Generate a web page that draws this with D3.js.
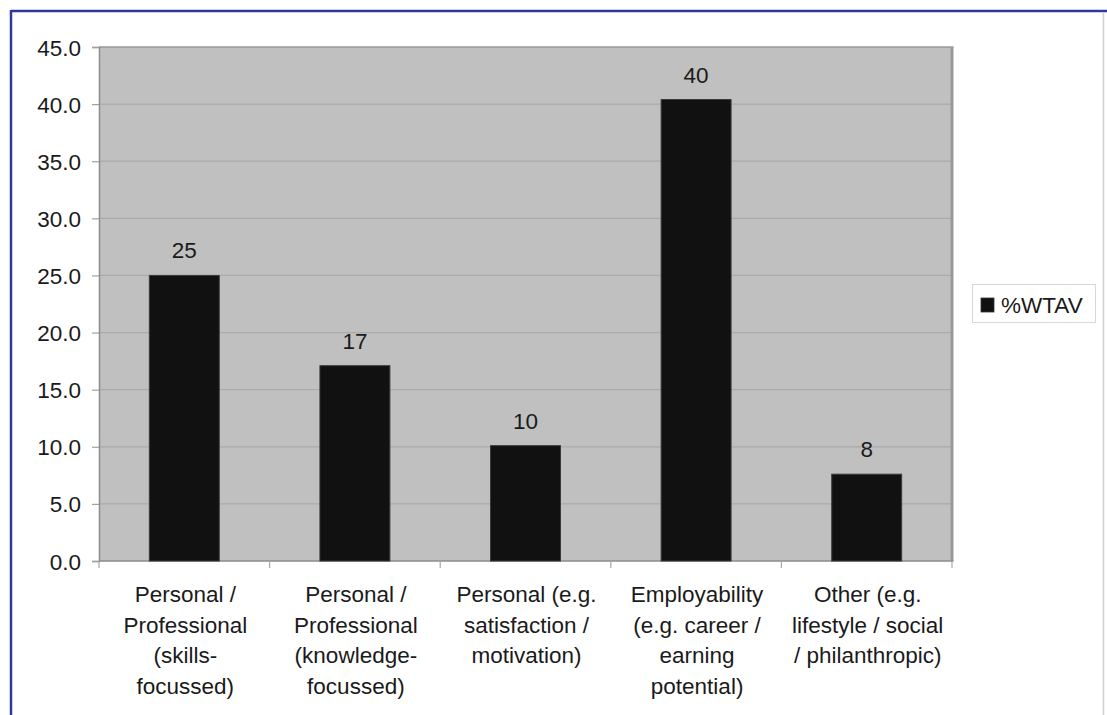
<!DOCTYPE html>
<html>
<head>
<meta charset="utf-8">
<script src="https://cdn.jsdelivr.net/npm/d3@7"></script>
<style>
  html, body { margin: 0; padding: 0; background: #fff; }
  svg { display: block; }
  text { font-family: "Liberation Sans", Arial, sans-serif; fill: #1a1a1a; }
</style>
</head>
<body>
<svg id="chart" width="1107" height="715"></svg>
<script>
// Reasons for study, share of responses (%WTAV)
const categories = [
  "Personal / Professional (skills-focussed)",
  "Personal / Professional (knowledge-focussed)",
  "Personal (e.g. satisfaction / motivation)",
  "Employability (e.g. career / earning potential)",
  "Other (e.g. lifestyle / social / philanthropic)"
];
const categoryLines = [
  ["Personal /", "Professional", "(skills-", "focussed)"],
  ["Personal /", "Professional", "(knowledge-", "focussed)"],
  ["Personal (e.g.", "satisfaction /", "motivation)"],
  ["Employability", "(e.g. career /", "earning", "potential)"],
  ["Other (e.g.", "lifestyle / social", "/ philanthropic)"]
];
const values = [25.0, 17.1, 10.1, 40.4, 7.6];
const seriesName = "%WTAV";
const yTicks = [0, 5, 10, 15, 20, 25, 30, 35, 40, 45];

const svg = d3.select("#chart");
const plot = { left: 99, right: 952, top: 47, bottom: 561 };
const fontSize = 22.5;

// outer frame
svg.append("line").attr("x1", 11).attr("x2", 1107).attr("y1", 11).attr("y2", 11)
  .attr("stroke", "#3535a0").attr("stroke-width", 2.5);
svg.append("line").attr("x1", 11).attr("x2", 11).attr("y1", 10).attr("y2", 715)
  .attr("stroke", "#3535a0").attr("stroke-width", 2.5);
svg.append("line").attr("x1", 1103.5).attr("x2", 1103.5).attr("y1", 12).attr("y2", 715)
  .attr("stroke", "#d0d0d0").attr("stroke-width", 1.5);

const x = d3.scaleBand().domain(categories)
  .range([plot.left, plot.right]).paddingInner(0.59).paddingOuter(0.295);
const xCat = d3.scaleBand().domain(categories).range([plot.left, plot.right]).padding(0);
const y = d3.scaleLinear().domain([0, 45]).range([plot.bottom, plot.top]);

// plot background
svg.append("rect")
  .attr("x", plot.left).attr("y", plot.top)
  .attr("width", plot.right - plot.left).attr("height", plot.bottom - plot.top)
  .attr("fill", "#c0c0c0");

// gridlines
svg.append("g").selectAll("line").data(yTicks.filter(d => d > 0 && d < 45)).join("line")
  .attr("x1", plot.left).attr("x2", plot.right)
  .attr("y1", d => y(d)).attr("y2", d => y(d))
  .attr("stroke", "#aaaaaa").attr("stroke-width", 1.2);

// plot border (top and right)
svg.append("line").attr("x1", plot.left).attr("x2", plot.right + 1.5)
  .attr("y1", plot.top).attr("y2", plot.top)
  .attr("stroke", "#999").attr("stroke-width", 1.5);
svg.append("line").attr("x1", plot.right).attr("x2", plot.right)
  .attr("y1", plot.top).attr("y2", plot.bottom)
  .attr("stroke", "#999").attr("stroke-width", 3);

// y axis
const yAxis = svg.append("g").attr("transform", `translate(${plot.left},0)`)
  .call(d3.axisLeft(y).tickValues(yTicks).tickFormat(d3.format(".1f")).tickSize(7).tickPadding(11));
yAxis.select(".domain").attr("stroke", "#8c8c8c").attr("stroke-width", 1.5);
yAxis.selectAll(".tick line").attr("stroke", "#a0a0a0").attr("stroke-width", 1.2);
yAxis.selectAll(".tick text")
  .style("font-family", "'Liberation Sans', Arial, sans-serif")
  .style("font-size", fontSize + "px").attr("fill", "#1a1a1a").attr("dy", "0.36em");

// x axis with boundary ticks
const xAxisG = svg.append("g");
xAxisG.append("line").attr("x1", plot.left).attr("x2", plot.right + 1.5)
  .attr("y1", plot.bottom).attr("y2", plot.bottom)
  .attr("stroke", "#8c8c8c").attr("stroke-width", 1.5);
const bounds = categories.map(c => xCat(c)).concat([plot.right]);
xAxisG.selectAll("line.tick").data(bounds).join("line").attr("class", "tick")
  .attr("x1", d => d).attr("x2", d => d)
  .attr("y1", plot.bottom).attr("y2", plot.bottom + 7)
  .attr("stroke", "#a8a8a8").attr("stroke-width", 1.2);

// category labels
const lineGap = 30.5;
const labelG = svg.append("g");
categories.forEach((c, i) => {
  const t = labelG.append("text")
    .attr("x", xCat(c) + xCat.bandwidth() / 2 + 1)
    .attr("y", 602)
    .attr("text-anchor", "middle")
    .style("font-size", fontSize + "px");
  categoryLines[i].forEach((ln, j) => {
    t.append("tspan").attr("x", xCat(c) + xCat.bandwidth() / 2 + 1)
      .attr("y", 602 + j * lineGap).text(ln);
  });
});

// bars
svg.append("g").selectAll("rect").data(values).join("rect")
  .attr("x", (d, i) => x(categories[i]))
  .attr("y", d => y(d))
  .attr("width", x.bandwidth())
  .attr("height", d => y(0) - y(d))
  .attr("fill", "#111111")
  .attr("stroke", "#3a3a3a").attr("stroke-width", 1);

// value labels
svg.append("g").selectAll("text").data(values).join("text")
  .attr("x", (d, i) => x(categories[i]) + x.bandwidth() / 2)
  .attr("y", d => y(d) - 17)
  .attr("text-anchor", "middle")
  .style("font-size", fontSize + "px")
  .text(d => d3.format(".0f")(d));

// legend
const lg = svg.append("g");
lg.append("rect").attr("x", 972.5).attr("y", 284.5).attr("width", 123).attr("height", 38)
  .attr("fill", "#fff").attr("stroke", "#d8d8d8").attr("stroke-width", 1);
lg.append("rect").attr("x", 981).attr("y", 298).attr("width", 13).attr("height", 14)
  .attr("fill", "#111").attr("stroke", "#333").attr("stroke-width", 0.8);
lg.append("text").attr("x", 1001).attr("y", 313)
  .style("font-size", fontSize + "px").text(seriesName);
</script>
</body>
</html>
